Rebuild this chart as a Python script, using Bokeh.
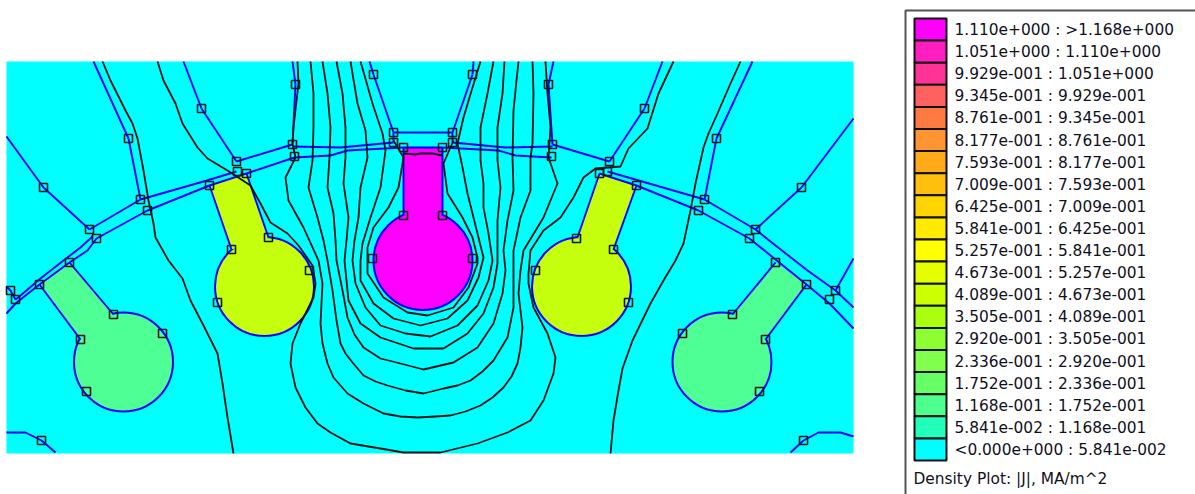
from bokeh.plotting import figure
from bokeh.models import Range1d
from bokeh.embed import file_html
from bokeh.resources import INLINE
from bokeh.core.properties import value

# ---- legend ----
range_labels = ["1.110e+000 : >1.168e+000", "1.051e+000 : 1.110e+000", "9.929e-001 : 1.051e+000",
                "9.345e-001 : 9.929e-001", "8.761e-001 : 9.345e-001", "8.177e-001 : 8.761e-001",
                "7.593e-001 : 8.177e-001", "7.009e-001 : 7.593e-001", "6.425e-001 : 7.009e-001",
                "5.841e-001 : 6.425e-001", "5.257e-001 : 5.841e-001", "4.673e-001 : 5.257e-001",
                "4.089e-001 : 4.673e-001", "3.505e-001 : 4.089e-001", "2.920e-001 : 3.505e-001",
                "2.336e-001 : 2.920e-001", "1.752e-001 : 2.336e-001", "1.168e-001 : 1.752e-001",
                "5.841e-002 : 1.168e-001", "<0.000e+000 : 5.841e-002"]
range_colors = ["#FF00FF", "#FF1FC0", "#FF3395", "#FF6060", "#FF7A40", "#FF9433", "#FFAA1A", "#FFBF0D",
                "#FFD500", "#FFEA00", "#FFFF00", "#E6FF00", "#CCFF00", "#AAFF11", "#8CFF33", "#80FF4D",
                "#66FF66", "#4DFF8C", "#22FFBB", "#00FFFF"]
legend_title = "Density Plot: |J|, MA/m^2"

# ---- slots: circle centre x, y, radius and neck outlines ----
slot_x = [422.5, 264, 581, 123, 721.5]
slot_y = [260, 286, 286, 361.5, 361.5]
slot_r = [49.5, 49.5, 49.5, 49.5, 49.5]
slot_colors = ["#FF00FF", "#C6FF0E", "#C6FF0E", "#4DFF94", "#4DFF94"]
neck_xs = [[403, 403, 442, 442], [231, 209, 237, 246, 268], [613, 636, 608, 599, 577],
           [80, 39, 69, 113], [765, 806, 775, 732]]
neck_ys = [[215, 147, 147, 215], [249, 185, 175, 173, 237], [249, 185, 175, 173, 237],
           [339, 284, 262, 314], [339, 284, 262, 314]]

# ---- blue boundary segments ----
blue_xs = [
    [403, 403], [442, 442], [403, 442], [231, 209], [268, 246], [613, 636], [577, 599],
    [80, 39], [113, 69], [765, 806], [732, 775],
    [6, 15, 39, 69, 87, 96, 147, 209, 246, 294, 330, 347, 403],
    [89, 140, 203, 236], [236, 292], [292, 340, 393], [393, 452], [393, 393], [452, 452],
    [6, 10, 15], [15, 20, 40, 63, 80, 92],
    [442, 498, 515, 551], [452, 505, 552], [552, 609], [607, 704],
    [599, 636, 698, 749, 775, 806, 829, 853], [704, 755, 775, 807, 835, 853],
    [6, 43, 89], [128, 140], [201, 236], [295, 292], [373, 393], [472, 452], [548, 552],
    [644, 609], [716, 704], [801, 755], [853, 835],
    [93, 128], [183, 201], [292, 295], [369, 373], [473, 472], [553, 548], [662, 644], [752, 716], [853, 801],
    [6, 25, 41, 55], [790, 803, 818, 840, 853],
]
blue_ys = [
    [215, 147], [215, 147], [147, 147], [249, 185], [237, 173], [249, 185], [237, 173],
    [339, 284], [314, 262], [339, 284], [314, 262],
    [313, 303, 284, 262, 250, 238, 210, 185, 173, 157, 155, 150, 147],
    [229, 199, 181, 171], [161, 144], [146, 147, 142], [132, 132], [132, 142], [132, 142],
    [286, 290, 299], [299, 295, 278, 260, 247, 236],
    [147, 150, 155, 157], [142, 147, 146], [144, 161], [171, 199],
    [173, 185, 210, 238, 259, 284, 303, 328], [199, 229, 245, 270, 290, 307],
    [136, 187, 229], [138, 199], [108, 161], [84, 144], [74, 132], [74, 132], [84, 144],
    [108, 161], [138, 199], [187, 229], [258, 290],
    [61, 138], [61, 108], [61, 84], [61, 74], [61, 74], [61, 84], [61, 108], [61, 138], [118, 187],
    [432, 432, 440, 452], [452, 440, 432, 432, 436],
]

# ---- black contour lines ----
contour_xs = [
    [102, 110, 125, 132, 137, 143, 148, 153, 155, 168, 182, 190, 203, 217, 222, 227, 233],
    [740, 730, 717, 708, 703, 695, 690, 683, 675, 663, 650, 632, 622, 618, 613, 610],
    [157, 163, 175, 182, 197, 207, 227, 250, 260, 270, 287, 298, 312, 315, 313, 300, 292, 290, 295, 305, 317, 330,
     350, 380, 403, 440, 477, 507, 530, 543, 553, 555, 547, 533, 528, 528, 530, 543, 560, 573, 583, 595, 620,
     628, 647, 658, 673, 687],
    [297, 298, 293, 292, 295, 285, 288, 303, 318, 322, 320, 322, 327, 333, 347, 363, 383, 400, 417, 435, 450, 465,
     480, 492, 503, 511, 517, 520, 522, 518, 520, 523, 543, 557, 548, 550, 547, 545],
    [310, 313, 313, 312, 308, 317, 323, 327, 332, 336, 340, 345, 352, 363, 375, 387, 405, 423, 443, 457, 470, 482,
     493, 507, 513, 513, 513, 520, 530, 530, 532, 533, 532],
    [322, 327, 330, 329, 327, 333, 335, 336, 342, 347, 354, 363, 380, 400, 423, 453, 477, 493, 502, 505, 503, 507,
     513, 512, 513, 516, 518],
    [336, 342, 345, 345, 343, 348, 346, 344, 348, 360, 380, 413, 443, 467, 483, 493, 497, 497, 500, 497, 497, 502,
     504],
    [350, 357, 365, 367, 360, 358, 354, 352, 355, 365, 380, 405, 430, 457, 477, 488, 492, 488, 483, 483, 480, 480,
     487, 493],
    [360, 372, 382, 385, 380, 370, 362, 360, 360, 373, 393, 420, 447, 467, 478, 483, 473, 467, 462, 457, 463, 472,
     480],
    [393, 403, 398, 388, 373, 367, 367, 367, 383, 407, 427, 453, 468, 477, 477, 472, 462, 447, 443, 453],
    [403, 415, 420, 432, 442],
]
contour_ys = [
    [61, 80, 110, 123, 138, 170, 200, 223, 237, 260, 278, 300, 325, 353, 383, 417, 453],
    [61, 83, 113, 133, 147, 183, 210, 243, 260, 280, 303, 340, 368, 390, 420, 453],
    [61, 80, 103, 123, 147, 158, 170, 185, 203, 222, 233, 245, 265, 283, 297, 323, 343, 363, 387, 407, 423, 432,
     443, 448, 452, 452, 443, 432, 420, 400, 373, 357, 333, 307, 283, 273, 250, 230, 217, 197, 177, 168,
     166, 148, 128, 93, 61],
    [61, 83, 127, 143, 157, 177, 200, 227, 260, 283, 323, 343, 363, 377, 393, 403, 413, 416, 417, 416, 415, 411,
     405, 397, 387, 376, 363, 347, 327, 293, 270, 250, 217, 183, 157, 127, 93, 61],
    [61, 93, 127, 160, 187, 217, 240, 260, 290, 320, 343, 353, 362, 375, 381, 385, 390, 393, 388, 385, 380, 371,
     360, 337, 307, 277, 250, 217, 190, 157, 143, 93, 61],
    [61, 93, 127, 157, 187, 213, 240, 260, 290, 317, 334, 347, 358, 363, 369, 362, 347, 323, 293, 270, 250, 220,
     190, 157, 110, 80, 61],
    [61, 93, 127, 157, 183, 217, 240, 260, 300, 323, 337, 348, 348, 333, 313, 287, 263, 220, 187, 160, 127, 93,
     61],
    [61, 103, 130, 157, 187, 217, 240, 260, 283, 307, 325, 333, 336, 325, 305, 280, 260, 233, 207, 183, 160, 127,
     93, 61],
    [61, 103, 133, 150, 187, 217, 243, 260, 280, 303, 318, 325, 318, 300, 277, 257, 217, 193, 167, 143, 117, 87,
     61],
    [140, 157, 187, 207, 227, 247, 262, 273, 297, 312, 315, 307, 287, 263, 257, 237, 217, 193, 163, 140],
    [153, 154, 153, 153, 155],
]

# ---- mesh nodes ----
node_x = [43, 89, 96, 140, 147, 128, 209, 201, 236, 237, 246, 292, 294, 295, 268, 231, 69, 39, 10, 15, 113, 162,
          80, 86, 217, 41, 373, 393, 393, 403, 442, 452, 452, 472, 548, 552, 551, 403, 442, 372, 472, 576, 644,
          716, 801, 609, 607, 599, 636, 704, 698, 755, 749, 613, 775, 806, 835, 829, 732, 682, 765, 759, 628,
          803, 309, 535]
node_y = [187, 229, 238, 199, 210, 138, 185, 108, 161, 171, 173, 144, 156, 84, 237, 249, 262, 284, 290, 299, 314,
          333, 339, 391, 302, 440, 74, 132, 142, 147, 147, 132, 142, 74, 84, 144, 156, 215, 215, 258, 258, 238,
          108, 138, 187, 161, 171, 173, 185, 199, 210, 229, 238, 249, 262, 284, 290, 299, 314, 333, 339, 391,
          302, 440, 270, 270]

W, H = 1195, 494
p = figure(width=W, height=H, output_backend="svg", toolbar_location=None,
           x_range=Range1d(0, W), y_range=Range1d(H, 0), min_border=0)
p.axis.visible = False
p.grid.visible = False
p.outline_line_color = None
p.background_fill_color = "white"

LEFT, RIGHT, TOP, BOTTOM = 6, 853, 61, 453
p.quad(left=[LEFT], right=[RIGHT], top=[TOP], bottom=[BOTTOM], fill_color="#00FFFF", line_color=None)

p.circle(slot_x, slot_y, radius=slot_r, fill_color=slot_colors, line_color="#0000FF", line_width=2)
p.patches(neck_xs, neck_ys, fill_color=slot_colors, line_color=None)
p.multi_line(blue_xs, blue_ys, line_color="#0000FF", line_width=1.9, line_join="round")
p.multi_line(contour_xs, contour_ys, line_color="#061414", line_width=1.8, line_join="round")
p.scatter(node_x, node_y, marker="square", size=8, fill_color=None, line_color="#0A1A1A", line_width=1.6)

# legend
p.quad(left=[905], right=[1210], top=[10], bottom=[510], fill_color="white", line_color="#555555", line_width=2)
row_h = 22.1
n = len(range_labels)
tops = [18 + i * row_h for i in range(n)]
p.quad(left=[914] * n, right=[946] * n, top=tops, bottom=[t + row_h for t in tops],
       fill_color=range_colors, line_color="#111111", line_width=2)
p.text([954] * n, [t + row_h / 2 + 0.5 for t in tops], text=range_labels, text_font=value("DejaVu Sans"),
       text_font_size="15.4px", text_baseline="middle", text_color="#10101C")
p.text([913], [478], text=[legend_title], text_font=value("DejaVu Sans"), text_font_size="15.4px",
       text_baseline="middle", text_color="#10101C")

html = file_html(p, INLINE)
open("out.html", "w").write(html)
